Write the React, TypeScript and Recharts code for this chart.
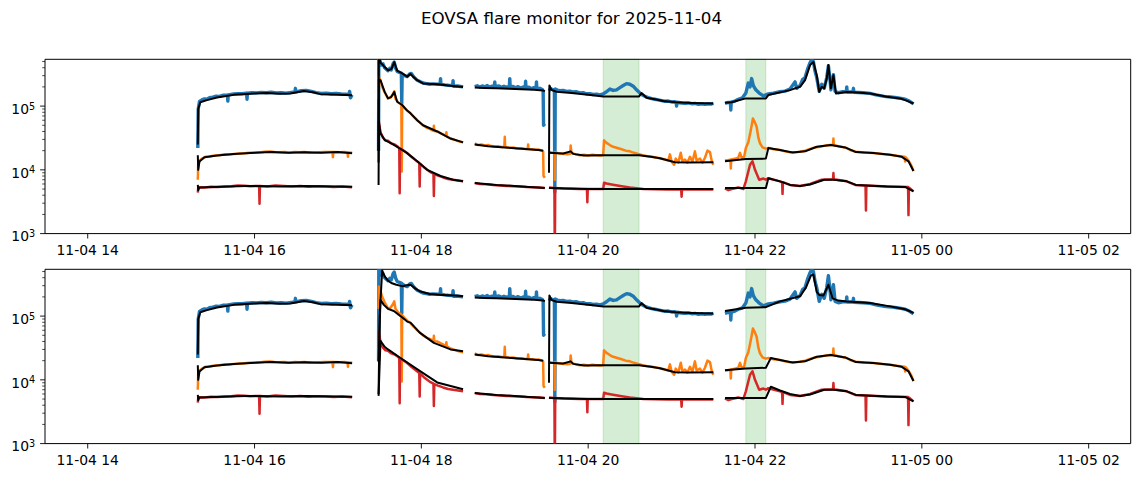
import React from "react";
import { LineChart, Line, XAxis, YAxis, ReferenceArea } from "recharts";

type P = [number, number];

const FONT = "DejaVu Sans, Verdana, sans-serif";
const TITLE = "EOVSA flare monitor for 2025-11-04";

const xTickHours = [14, 16, 18, 20, 22, 24, 26];
const xTickLabels = ["11-04 14", "11-04 16", "11-04 18", "11-04 20", "11-04 22", "11-05 00", "11-05 02"];
const xDomain: [number, number] = [13.488, 26.504];
const yDomain: [number, number] = [1000, 542000];
const yMajorTicks = [1e3, 1e4, 1e5];
const flareSpans: [number, number][] = [[20.18, 20.61], [21.89, 22.13]];

// ---------- coloured flux series (hours since 2025-11-04 00:00, value) ----------
const blue1: P[] = [[15.32, 2.2e4], [15.325, 9e4], [15.34, 1.18e5], [15.37, 1.25e5], [15.4, 1.3e5], [15.43, 1.28e5], [15.46, 1.35e5], [15.5, 1.38e5], [15.54, 1.43e5], [15.58, 1.42e5], [15.62, 1.48e5], [15.675, 1.48e5], [15.68, 1.2e5], [15.685, 1.5e5], [15.75, 1.55e5], [15.8, 1.57e5], [15.85, 1.56e5], [15.905, 1.6e5], [15.91, 1.28e5], [15.915, 1.6e5], [15.97, 1.62e5], [16.02, 1.61e5], [16.08, 1.64e5], [16.14, 1.62e5], [16.2, 1.65e5], [16.26, 1.61e5], [16.32, 1.62e5], [16.38, 1.6e5], [16.44, 1.64e5], [16.485, 1.66e5], [16.49, 1.9e5], [16.495, 1.67e5], [16.56, 1.74e5], [16.62, 1.76e5], [16.68, 1.7e5], [16.74, 1.63e5], [16.8, 1.58e5], [16.86, 1.6e5], [16.92, 1.56e5], [16.98, 1.58e5], [17.04, 1.55e5], [17.1, 1.53e5], [17.135, 1.55e5], [17.14, 1.7e5], [17.15, 1.35e5], [17.17, 1.5e5]];
const blue2: P[] = [[17.487, 2e4], [17.49, 6.5e5], [17.5, 5.2e5], [17.52, 4.4e5], [17.54, 4.6e5], [17.56, 4.0e5], [17.58, 3.8e5], [17.6, 3.6e5], [17.62, 3.9e5], [17.64, 3.7e5], [17.66, 4.6e5], [17.675, 4.9e5], [17.69, 4.0e5], [17.71, 3.5e5], [17.73, 3.4e5], [17.76, 3.3e5], [17.765, 1.1e5], [17.77, 3.2e5], [17.8, 3.0e5], [17.83, 2.9e5], [17.86, 3.2e5], [17.88, 3.25e5], [17.91, 2.85e5], [17.95, 2.55e5], [17.99, 2.4e5], [18.02, 2.3e5], [18.06, 2.25e5], [18.1, 2.2e5], [18.14, 2.23e5], [18.19, 2.2e5], [18.225, 2.22e5], [18.23, 2.7e5], [18.235, 2.2e5], [18.28, 2.15e5], [18.32, 2.12e5], [18.375, 2.1e5], [18.38, 2.5e5], [18.385, 2.05e5], [18.43, 2.07e5], [18.47, 2.03e5], [18.5, 2.0e5]];
const blue3: P[] = [[18.64, 2.02e5], [18.67, 2.08e5], [18.7, 1.99e5], [18.73, 2.07e5], [18.76, 2.0e5], [18.79, 2.1e5], [18.82, 1.98e5], [18.85, 2.06e5], [18.875, 2.05e5], [18.88, 2.4e5], [18.885, 2.02e5], [18.93, 2.07e5], [18.96, 1.97e5], [18.99, 2.05e5], [19.02, 1.97e5], [19.055, 2.04e5], [19.06, 2.7e5], [19.065, 2.0e5], [19.1, 2.04e5], [19.13, 1.93e5], [19.16, 2.02e5], [19.19, 1.92e5], [19.22, 1.99e5], [19.245, 1.95e5], [19.25, 2.45e5], [19.255, 1.92e5], [19.29, 1.98e5], [19.32, 1.88e5], [19.35, 1.95e5], [19.375, 1.9e5], [19.38, 2.4e5], [19.385, 1.87e5], [19.42, 1.9e5], [19.45, 1.82e5], [19.46, 1.72e5], [19.465, 5e4], [19.48, 5.3e4]];
const blue4: P[] = [[19.53, 1.75e5], [19.55, 1.88e5], [19.575, 1.8e5], [19.595, 1.83e5], [19.6, 4.5e3], [19.605, 1.85e5], [19.63, 1.78e5], [19.66, 1.74e5], [19.7, 1.76e5], [19.74, 1.7e5], [19.78, 1.72e5], [19.82, 1.66e5], [19.86, 1.68e5], [19.9, 1.61e5], [19.94, 1.62e5], [19.98, 1.56e5], [20.02, 1.57e5], [20.06, 1.52e5], [20.1, 1.54e5], [20.14, 1.5e5], [20.18, 1.55e5], [20.22, 1.68e5], [20.26, 1.85e5], [20.3, 1.76e5], [20.34, 1.8e5], [20.38, 1.95e5], [20.42, 2.1e5], [20.46, 2.25e5], [20.5, 2.2e5], [20.54, 2.05e5], [20.58, 1.8e5], [20.62, 1.6e5], [20.64, 1.52e5], [20.68, 1.42e5], [20.72, 1.36e5], [20.76, 1.31e5], [20.8, 1.28e5], [20.84, 1.25e5], [20.88, 1.22e5], [20.92, 1.19e5], [20.96, 1.2e5], [21.0, 1.16e5], [21.04, 1.17e5], [21.055, 1.15e5], [21.06, 1.0e5], [21.065, 1.15e5], [21.12, 1.12e5], [21.16, 1.11e5], [21.2, 1.12e5], [21.24, 1.09e5], [21.28, 1.1e5], [21.32, 1.07e5], [21.36, 1.09e5], [21.4, 1.07e5], [21.44, 1.09e5], [21.48, 1.08e5], [21.5, 1.1e5]];
const blue5: P[] = [[21.64, 1.1e5], [21.68, 1.14e5], [21.705, 1.14e5], [21.71, 8.7e4], [21.715, 1.15e5], [21.76, 1.2e5], [21.8, 1.28e5], [21.85, 1.35e5], [21.89, 1.6e5], [21.92, 2.3e5], [21.94, 2.0e5], [21.96, 2.7e5], [21.98, 2.1e5], [22.01, 1.8e5], [22.05, 1.6e5], [22.1, 1.45e5], [22.13, 1.5e5], [22.16, 1.55e5], [22.22, 1.6e5], [22.3, 1.68e5], [22.36, 1.72e5], [22.42, 1.85e5], [22.48, 2.4e5], [22.5, 1.9e5], [22.54, 2.1e5], [22.57, 2.6e5], [22.6, 2.8e5], [22.63, 3.8e5], [22.66, 4.8e5], [22.68, 5.3e5], [22.7, 5e5], [22.72, 3.5e5], [22.74, 2.8e5], [22.77, 1.7e5], [22.8, 2.2e5], [22.83, 1.9e5], [22.86, 2.8e5], [22.88, 4.3e5], [22.9, 2.5e5], [22.91, 1.8e5], [22.94, 3.1e5], [22.96, 1.7e5], [23.0, 1.62e5], [23.05, 1.68e5], [23.095, 1.68e5], [23.1, 2.0e5], [23.105, 1.66e5], [23.175, 1.66e5], [23.18, 1.9e5], [23.185, 1.65e5], [23.3, 1.62e5], [23.38, 1.58e5], [23.45, 1.5e5], [23.5, 1.46e5], [23.55, 1.42e5], [23.6, 1.4e5], [23.65, 1.38e5], [23.7, 1.35e5], [23.75, 1.32e5], [23.8, 1.28e5], [23.85, 1.2e5], [23.9, 1.08e5]];

const orange1: P[] = [[15.32, 7e3], [15.325, 1.25e4], [15.34, 1.4e4], [15.37, 1.5e4], [15.41, 1.6e4], [15.46, 1.62e4], [15.52, 1.68e4], [15.58, 1.7e4], [15.64, 1.75e4], [15.7, 1.74e4], [15.76, 1.78e4], [15.82, 1.8e4], [15.88, 1.82e4], [15.94, 1.85e4], [16.0, 1.86e4], [16.06, 1.88e4], [16.12, 1.92e4], [16.18, 1.94e4], [16.24, 1.9e4], [16.3, 1.88e4], [16.36, 1.9e4], [16.42, 1.86e4], [16.48, 1.91e4], [16.54, 1.88e4], [16.6, 1.91e4], [16.66, 1.86e4], [16.72, 1.85e4], [16.78, 1.88e4], [16.84, 1.91e4], [16.935, 1.9e4], [16.94, 1.58e4], [16.945, 1.9e4], [17.02, 1.88e4], [17.08, 1.9e4], [17.115, 1.88e4], [17.12, 1.6e4], [17.125, 1.88e4], [17.17, 1.85e4]];
const orange2: P[] = [[17.487, 1.3e5], [17.49, 2.9e5], [17.51, 2.5e5], [17.53, 2.0e5], [17.56, 1.65e5], [17.6, 1.32e5], [17.63, 1.35e5], [17.66, 1.55e5], [17.675, 1.7e5], [17.69, 1.3e5], [17.72, 1.15e5], [17.76, 1.06e5], [17.765, 9.4e3], [17.77, 1.03e5], [17.8, 9.3e4], [17.83, 8.5e4], [17.87, 7.7e4], [17.91, 6.8e4], [17.95, 6e4], [17.99, 5.4e4], [18.02, 5e4], [18.06, 4.6e4], [18.1, 4.4e4], [18.145, 4.1e4], [18.15, 4.9e4], [18.155, 4.05e4], [18.19, 4e4], [18.24, 3.7e4], [18.295, 3.4e4], [18.3, 3.9e4], [18.305, 3.35e4], [18.35, 3.1e4], [18.4, 2.95e4], [18.45, 2.8e4], [18.5, 2.7e4]];
const orange3: P[] = [[18.64, 2.6e4], [18.68, 2.45e4], [18.72, 2.5e4], [18.76, 2.42e4], [18.8, 2.45e4], [18.84, 2.36e4], [18.88, 2.32e4], [18.92, 2.35e4], [18.96, 2.28e4], [18.995, 2.3e4], [19.0, 3.3e4], [19.005, 2.28e4], [19.05, 2.22e4], [19.1, 2.24e4], [19.15, 2.16e4], [19.2, 2.18e4], [19.25, 2.12e4], [19.275, 2.12e4], [19.28, 2.5e4], [19.285, 2.12e4], [19.33, 2.1e4], [19.37, 2.06e4], [19.41, 2.08e4], [19.45, 2.0e4], [19.46, 1.95e4], [19.465, 8e3], [19.48, 7.5e3]];
const orange4: P[] = [[19.53, 1.9e4], [19.56, 1.85e4], [19.595, 1.85e4], [19.6, 7e3], [19.605, 1.9e4], [19.65, 1.8e4], [19.7, 1.78e4], [19.75, 1.75e4], [19.785, 1.78e4], [19.79, 2.4e4], [19.8, 1.85e4], [19.85, 1.75e4], [19.9, 1.7e4], [19.95, 1.72e4], [20.0, 1.68e4], [20.05, 1.72e4], [20.1, 1.7e4], [20.15, 1.68e4], [20.18, 1.7e4], [20.19, 2.9e4], [20.22, 2.65e4], [20.26, 2.45e4], [20.3, 2.3e4], [20.35, 2.2e4], [20.4, 2.1e4], [20.45, 2.0e4], [20.5, 1.95e4], [20.55, 1.85e4], [20.6, 1.78e4], [20.65, 1.7e4], [20.7, 1.65e4], [20.75, 1.62e4], [20.8, 1.58e4], [20.86, 1.52e4], [20.92, 1.45e4], [20.96, 1.4e4], [20.98, 1.75e4], [21.0, 1.35e4], [21.03, 1.2e4], [21.05, 1.5e4], [21.08, 1.3e4], [21.11, 1.85e4], [21.13, 1.35e4], [21.16, 1.45e4], [21.19, 1.3e4], [21.22, 1.6e4], [21.25, 1.35e4], [21.28, 1.95e4], [21.3, 1.4e4], [21.34, 1.5e4], [21.37, 1.3e4], [21.4, 1.55e4], [21.43, 2.0e4], [21.46, 1.9e4], [21.48, 1.4e4], [21.5, 1.2e4]];
const orange5: P[] = [[21.64, 1.4e4], [21.67, 1.42e4], [21.705, 1.44e4], [21.71, 1.05e4], [21.715, 1.45e4], [21.76, 1.5e4], [21.8, 1.55e4], [21.82, 1.85e4], [21.84, 1.55e4], [21.87, 1.6e4], [21.89, 2.2e4], [21.92, 2.7e4], [21.95, 4.2e4], [21.975, 6.4e4], [22.0, 5.5e4], [22.02, 4.7e4], [22.04, 3.2e4], [22.06, 2.6e4], [22.09, 2.25e4], [22.13, 2.15e4], [22.16, 2.2e4], [22.22, 2.1e4], [22.3, 2.05e4], [22.36, 1.95e4], [22.42, 1.88e4], [22.48, 1.88e4], [22.54, 1.92e4], [22.6, 2.0e4], [22.66, 2.12e4], [22.72, 2.25e4], [22.78, 2.3e4], [22.84, 2.4e4], [22.9, 2.45e4], [22.935, 2.45e4], [22.94, 3.1e4], [22.945, 2.45e4], [23.0, 2.35e4], [23.08, 2.25e4], [23.14, 2.05e4], [23.21, 1.92e4], [23.3, 1.87e4], [23.42, 1.83e4], [23.52, 1.78e4], [23.62, 1.72e4], [23.7, 1.66e4], [23.76, 1.62e4], [23.795, 1.6e4], [23.8, 1.35e4], [23.805, 1.58e4], [23.84, 1.4e4], [23.87, 1.2e4], [23.9, 9.6e3]];

const red1: P[] = [[15.32, 4.4e3], [15.325, 5.2e3], [15.34, 5.35e3], [15.4, 5.3e3], [15.48, 5.45e3], [15.56, 5.4e3], [15.64, 5.5e3], [15.72, 5.55e3], [15.8, 5.7e3], [15.88, 5.65e3], [15.95, 5.55e3], [16.055, 5.6e3], [16.06, 2.95e3], [16.065, 5.6e3], [16.15, 5.5e3], [16.25, 5.7e3], [16.35, 5.6e3], [16.45, 5.5e3], [16.55, 5.6e3], [16.65, 5.45e3], [16.75, 5.55e3], [16.85, 5.5e3], [16.95, 5.4e3], [17.05, 5.5e3], [17.17, 5.35e3]];
const red2: P[] = [[17.487, 2e4], [17.49, 5.7e4], [17.51, 3.9e4], [17.54, 3.2e4], [17.57, 2.9e4], [17.6, 2.85e4], [17.64, 2.6e4], [17.68, 2.5e4], [17.72, 2.3e4], [17.735, 2.2e4], [17.74, 4.3e3], [17.745, 2.15e4], [17.79, 2e4], [17.83, 1.83e4], [17.88, 1.6e4], [17.93, 1.42e4], [17.975, 1.28e4], [17.98, 5.5e3], [17.985, 1.25e4], [18.03, 1.1e4], [18.07, 1e4], [18.11, 9.2e3], [18.145, 8.7e3], [18.15, 3.9e3], [18.155, 8.6e3], [18.2, 8.1e3], [18.26, 7.6e3], [18.32, 7.2e3], [18.38, 7e3], [18.44, 6.8e3], [18.5, 6.6e3]];
const red3: P[] = [[18.64, 6.2e3], [18.7, 6.0e3], [18.78, 5.95e3], [18.86, 5.8e3], [18.94, 5.7e3], [19.02, 5.6e3], [19.1, 5.55e3], [19.18, 5.5e3], [19.26, 5.4e3], [19.34, 5.35e3], [19.42, 5.3e3], [19.48, 5.2e3]];
const red4: P[] = [[19.53, 5.3e3], [19.595, 5.2e3], [19.6, 400], [19.605, 5.2e3], [19.7, 5.1e3], [19.8, 5.05e3], [19.9, 5.0e3], [19.985, 5.0e3], [19.99, 3.1e3], [19.995, 5.0e3], [20.1, 5.0e3], [20.18, 5.0e3], [20.19, 6.3e3], [20.22, 6.1e3], [20.28, 5.9e3], [20.35, 5.7e3], [20.42, 5.5e3], [20.5, 5.3e3], [20.58, 5.15e3], [20.66, 5.0e3], [20.8, 4.95e3], [20.95, 4.9e3], [21.115, 4.9e3], [21.12, 3.8e3], [21.125, 4.9e3], [21.3, 4.9e3], [21.5, 4.9e3]];
const red5: P[] = [[21.64, 5.1e3], [21.68, 4.8e3], [21.72, 5.0e3], [21.8, 5.3e3], [21.86, 5.0e3], [21.89, 6.6e3], [21.94, 1.2e4], [21.97, 1.36e4], [22.0, 1e4], [22.05, 7e3], [22.1, 7.3e3], [22.13, 7e3], [22.16, 7.4e3], [22.3, 6.6e3], [22.325, 6.4e3], [22.33, 4.2e3], [22.335, 6.4e3], [22.42, 5.8e3], [22.54, 5.6e3], [22.66, 6.0e3], [22.8, 7e3], [22.935, 7.1e3], [22.94, 8.9e3], [22.945, 7.1e3], [23.1, 6.6e3], [23.2, 5.8e3], [23.325, 5.7e3], [23.33, 2.3e3], [23.335, 5.7e3], [23.58, 5.5e3], [23.835, 5.4e3], [23.84, 1.95e3], [23.845, 5.3e3], [23.9, 4.6e3]];

// ---------- black background (baseline) series ----------
const kBlue1: P[] = [[15.32, 2.5e4], [15.325, 9e4], [15.35, 1.15e5], [15.43, 1.24e5], [15.55, 1.36e5], [15.75, 1.5e5], [16.0, 1.58e5], [16.15, 1.6e5], [16.3, 1.56e5], [16.43, 1.58e5], [16.59, 1.72e5], [16.7, 1.65e5], [16.79, 1.54e5], [17.0, 1.5e5], [17.17, 1.48e5]];
const kBlue2Top: P[] = [[17.487, 2e4], [17.49, 7e5], [17.51, 4.8e5], [17.54, 4.4e5], [17.56, 4.1e5], [17.6, 3.65e5], [17.64, 3.8e5], [17.675, 4.9e5], [17.71, 3.6e5], [17.77, 3.25e5], [17.83, 2.9e5], [17.87, 3.2e5], [17.9, 2.9e5], [17.95, 2.55e5], [18.02, 2.27e5], [18.19, 2.2e5], [18.35, 2.08e5], [18.5, 2.0e5]];
const kBlue2Bot: P[] = [[17.487, 6e3], [17.5, 1e5], [17.53, 5.2e5], [17.56, 4.2e5], [17.6, 3.6e5], [17.64, 3.3e5], [17.7, 3.1e5], [17.77, 2.95e5], [17.83, 3.05e5], [17.87, 3.1e5], [17.93, 2.7e5], [17.98, 2.45e5], [18.1, 2.22e5], [18.25, 2.15e5], [18.4, 2.1e5], [18.5, 2.05e5]];
const kBlue3: P[] = [[18.64, 1.95e5], [18.75, 1.93e5], [18.9, 1.9e5], [19.05, 1.87e5], [19.2, 1.83e5], [19.35, 1.8e5], [19.46, 1.76e5], [19.48, 1.7e5]];
const kBlue4: P[] = [[19.53, 9e3], [19.535, 2.1e5], [19.56, 1.8e5], [19.62, 1.68e5], [19.8, 1.6e5], [20.0, 1.5e5], [20.18, 1.42e5], [20.61, 1.42e5], [20.64, 1.6e5], [20.7, 1.35e5], [20.8, 1.28e5], [20.9, 1.2e5], [21.05, 1.15e5], [21.25, 1.12e5], [21.5, 1.1e5]];
const kBlue5Top: P[] = [[21.64, 1.13e5], [21.72, 1.15e5], [21.89, 1.32e5], [22.13, 1.32e5], [22.16, 1.49e5], [22.3, 1.64e5], [22.42, 1.78e5], [22.48, 1.9e5], [22.54, 2e5], [22.6, 2.55e5], [22.66, 4.4e5], [22.7, 4.9e5], [22.74, 3.05e5], [22.77, 1.67e5], [22.8, 2e5], [22.83, 1.9e5], [22.86, 2.7e5], [22.88, 4.4e5], [22.91, 1.9e5], [22.94, 3.05e5], [22.97, 1.58e5], [23.1, 1.67e5], [23.18, 1.65e5], [23.38, 1.58e5], [23.58, 1.4e5], [23.74, 1.32e5], [23.8, 1.24e5], [23.9, 1.1e5]];
const kBlue5Bot: P[] = [[21.64, 1.2e5], [21.89, 1.35e5], [22.13, 1.38e5], [22.3, 1.7e5], [22.54, 2.05e5], [22.61, 2.8e5], [22.67, 4.3e5], [22.7, 4.5e5], [22.74, 2.4e5], [22.77, 2.15e5], [22.82, 2.1e5], [22.88, 3.1e5], [22.93, 1.9e5], [23.0, 1.75e5], [23.1, 1.7e5], [23.38, 1.6e5], [23.62, 1.42e5], [23.8, 1.28e5], [23.9, 1.12e5]];

const kOrange1: P[] = [[15.32, 1.7e4], [15.325, 1e4], [15.34, 1.35e4], [15.4, 1.58e4], [15.55, 1.68e4], [15.75, 1.77e4], [16.0, 1.85e4], [16.2, 1.9e4], [16.4, 1.85e4], [16.6, 1.88e4], [16.8, 1.86e4], [17.0, 1.9e4], [17.17, 1.82e4]];
const kOrange2Top: P[] = [[17.487, 1.3e4], [17.49, 2.6e5], [17.51, 2.55e5], [17.56, 1.67e5], [17.6, 1.32e5], [17.64, 1.4e5], [17.675, 1.67e5], [17.71, 1.17e5], [17.77, 1.04e5], [17.83, 8.5e4], [17.87, 7.7e4], [17.95, 6e4], [18.02, 5e4], [18.19, 4e4], [18.35, 3.1e4], [18.5, 2.7e4]];
const kOrange2Bot: P[] = [[17.487, 1.9e4], [17.51, 1.8e5], [17.55, 1.5e5], [17.6, 1.3e5], [17.67, 1.2e5], [17.75, 1.0e5], [17.83, 8.2e4], [17.87, 7.9e4], [17.98, 5.5e4], [18.15, 3.8e4], [18.35, 3e4], [18.5, 2.8e4]];
const kOrange3: P[] = [[18.64, 2.5e4], [18.8, 2.35e4], [19.0, 2.25e4], [19.2, 2.15e4], [19.4, 2.05e4], [19.46, 2.0e4]];
const kOrange4: P[] = [[19.53, 1.85e4], [19.7, 1.8e4], [19.79, 1.95e4], [19.82, 1.78e4], [19.95, 1.68e4], [20.18, 1.7e4], [20.61, 1.7e4], [20.75, 1.6e4], [20.86, 1.52e4], [21.04, 1.32e4], [21.2, 1.3e4], [21.5, 1.32e4]];
const kOrange5Top: P[] = [[21.64, 1.36e4], [21.89, 1.48e4], [22.13, 1.5e4], [22.16, 2.2e4], [22.3, 2.05e4], [22.45, 1.87e4], [22.6, 1.95e4], [22.74, 2.3e4], [22.91, 2.46e4], [23.08, 2.25e4], [23.21, 1.9e4], [23.42, 1.83e4], [23.62, 1.72e4], [23.76, 1.6e4], [23.84, 1.36e4], [23.9, 9.6e3]];
const kOrange5Bot: P[] = [[21.64, 1.42e4], [21.89, 1.5e4], [22.13, 1.55e4], [22.19, 2.2e4], [22.3, 2.05e4], [22.45, 1.87e4], [22.6, 1.95e4], [22.74, 2.3e4], [22.91, 2.46e4], [23.08, 2.25e4], [23.21, 1.9e4], [23.42, 1.83e4], [23.62, 1.72e4], [23.76, 1.6e4], [23.84, 1.36e4], [23.9, 9.6e3]];

const kRed1: P[] = [[15.32, 5.8e3], [15.325, 4.8e3], [15.34, 5.3e3], [15.6, 5.45e3], [15.9, 5.6e3], [16.3, 5.5e3], [16.6, 5.6e3], [17.17, 5.45e3]];
const kRed2Top: P[] = [[17.487, 5.8e3], [17.49, 5.7e4], [17.51, 3.75e4], [17.56, 2.94e4], [17.64, 2.6e4], [17.74, 2.18e4], [17.83, 1.83e4], [17.95, 1.36e4], [18.07, 1e4], [18.23, 8e3], [18.38, 7e3], [18.5, 6.6e3]];
const kRed2Bot: P[] = [[17.487, 5.6e3], [17.51, 4.1e4], [17.56, 3.3e4], [17.6, 3e4], [17.75, 2.2e4], [17.98, 1.38e4], [18.19, 9.1e3], [18.5, 7.1e3]];
const kRed3: P[] = [[18.64, 6.2e3], [18.9, 5.8e3], [19.2, 5.5e3], [19.48, 5.2e3]];
const kRed4: P[] = [[19.53, 5.2e3], [20.0, 5.0e3], [21.5, 5.0e3]];
const kRed5Top: P[] = [[21.64, 5.2e3], [22.13, 5.2e3], [22.16, 7.4e3], [22.3, 6.6e3], [22.42, 5.8e3], [22.54, 5.6e3], [22.66, 5.9e3], [22.83, 7e3], [22.94, 7e3], [23.1, 6.6e3], [23.21, 5.8e3], [23.58, 5.5e3], [23.8, 5.4e3], [23.9, 4.6e3]];
const kRed5Bot: P[] = [[21.64, 5.2e3], [22.13, 5.2e3], [22.19, 7.8e3], [22.3, 6.8e3], [22.42, 6.0e3], [22.54, 5.6e3], [22.66, 5.9e3], [22.83, 7e3], [22.94, 7e3], [23.1, 6.6e3], [23.21, 5.8e3], [23.58, 5.5e3], [23.8, 5.4e3], [23.9, 4.6e3]];

// join segments, breaking the line at each data gap
type Row = { t: number; v: number | null };
const join = (...segs: P[][]): Row[] => {
  const out: Row[] = [];
  segs.forEach((s, i) => {
    if (i > 0) {
      const prev = segs[i - 1];
      out.push({ t: (prev[prev.length - 1][0] + s[0][0]) / 2, v: null });
    }
    s.forEach(([t, v]) => out.push({ t, v }));
  });
  return out;
};

const blueData = join(blue1, blue2, blue3, blue4, blue5);
const orangeData = join(orange1, orange2, orange3, orange4, orange5);
const redData = join(red1, red2, red3, red4, red5);

const topBlacks = [
  join(kBlue1, kBlue2Top, kBlue3, kBlue4, kBlue5Top),
  join(kOrange1, kOrange2Top, kOrange3, kOrange4, kOrange5Top),
  join(kRed1, kRed2Top, kRed3, kRed4, kRed5Top),
];
const bottomBlacks = [
  join(kBlue1, kBlue2Bot, kBlue3, kBlue4, kBlue5Bot),
  join(kOrange1, kOrange2Bot, kOrange3, kOrange4, kOrange5Bot),
  join(kRed1, kRed2Bot, kRed3, kRed4, kRed5Bot),
];

const yTicks: number[] = [];
yMajorTicks.forEach((m) => {
  for (let k = 1; k <= 9; k++) {
    if (m * k <= yDomain[1]) yTicks.push(m * k);
  }
});

const XTick = (props: any) => {
  const { x, y, payload } = props;
  const idx = xTickHours.indexOf(payload.value);
  return (
    <g>
      <line x1={x} x2={x} y1={y} y2={y + 4.9} stroke="#000" strokeWidth={0.9} />
      <text x={x} y={y + 21.2} textAnchor="middle" fontSize={13.9} fontFamily={FONT} fill="#000">
        {xTickLabels[idx]}
      </text>
    </g>
  );
};

const YTick = (props: any) => {
  const { x, y, payload } = props;
  const v = payload.value as number;
  const lg = Math.log10(v);
  const exp = Math.round(lg);
  const major = Math.abs(lg - exp) < 1e-6;
  if (!major) {
    return <line x1={x - 2.8} x2={x} y1={y} y2={y} stroke="#000" strokeWidth={0.7} />;
  }
  return (
    <g>
      <line x1={x - 4.9} x2={x} y1={y} y2={y} stroke="#000" strokeWidth={0.9} />
      <text x={x - 9.8} y={y + 7.7} textAnchor="end" fontSize={13.9} fontFamily={FONT} fill="#000">
        <tspan>10</tspan>
        <tspan dy={-4.2} fontSize={9.7}>{exp}</tspan>
      </text>
    </g>
  );
};

const COLORS = { blue: "#1f77b4", orange: "#ff7f0e", red: "#d62728", green: "#2ca02c" };

const Panel = ({ blacks }: { blacks: Row[][] }) => (
  <LineChart width={1143} height={260} margin={{ top: 59.3, right: 12.3, bottom: 0, left: 0 }}>
    <XAxis
      dataKey="t"
      type="number"
      domain={xDomain}
      allowDataOverflow
      ticks={xTickHours}
      interval={0}
      tickSize={0}
      tickMargin={0}
      tick={<XTick />}
      axisLine={false}
      tickLine={false}
      height={26.4}
    />
    <YAxis
      type="number"
      scale="log"
      domain={yDomain}
      allowDataOverflow
      ticks={yTicks}
      interval={0}
      tickSize={0}
      tickMargin={0}
      tick={<YTick />}
      axisLine={false}
      tickLine={false}
      width={45}
    />
    {flareSpans.map(([a, b], i) => (
      <ReferenceArea
        key={i}
        x1={a}
        x2={b}
        y1={yDomain[0]}
        y2={yDomain[1]}
        fill={COLORS.green}
        fillOpacity={0.2}
        stroke={COLORS.green}
        strokeOpacity={0.2}
      />
    ))}
    <Line data={blueData} dataKey="v" type="linear" stroke={COLORS.blue} strokeWidth={3.4} strokeLinejoin="round" dot={false} isAnimationActive={false} connectNulls={false} />
    <Line data={orangeData} dataKey="v" type="linear" stroke={COLORS.orange} strokeWidth={2.5} strokeLinejoin="round" dot={false} isAnimationActive={false} connectNulls={false} />
    <Line data={redData} dataKey="v" type="linear" stroke={COLORS.red} strokeWidth={2.5} strokeLinejoin="round" dot={false} isAnimationActive={false} connectNulls={false} />
    {blacks.map((d, i) => (
      <Line key={i} data={d} dataKey="v" type="linear" stroke="#000" strokeWidth={2} strokeLinejoin="round" dot={false} isAnimationActive={false} connectNulls={false} />
    ))}
    <ReferenceArea
      x1={xDomain[0]}
      x2={xDomain[1]}
      y1={yDomain[0]}
      y2={yDomain[1]}
      fill="none"
      stroke="#000"
      strokeWidth={1}
    />
  </LineChart>
);

export default function App() {
  return (
    <div style={{ position: "absolute", left: 0, top: 0, width: 1143, height: 478, background: "#fff", fontFamily: FONT }}>
      <svg width={1143} height={40} style={{ position: "absolute", left: 0, top: 0 }}>
        <text x={571.5} y={24} textAnchor="middle" fontSize={16.7} fontFamily={FONT} fill="#000">
          {TITLE}
        </text>
      </svg>
      <div style={{ position: "absolute", left: 0, top: 0 }}>
        <Panel blacks={topBlacks} />
      </div>
      <div style={{ position: "absolute", left: 0, top: 210 }}>
        <Panel blacks={bottomBlacks} />
      </div>
    </div>
  );
}
